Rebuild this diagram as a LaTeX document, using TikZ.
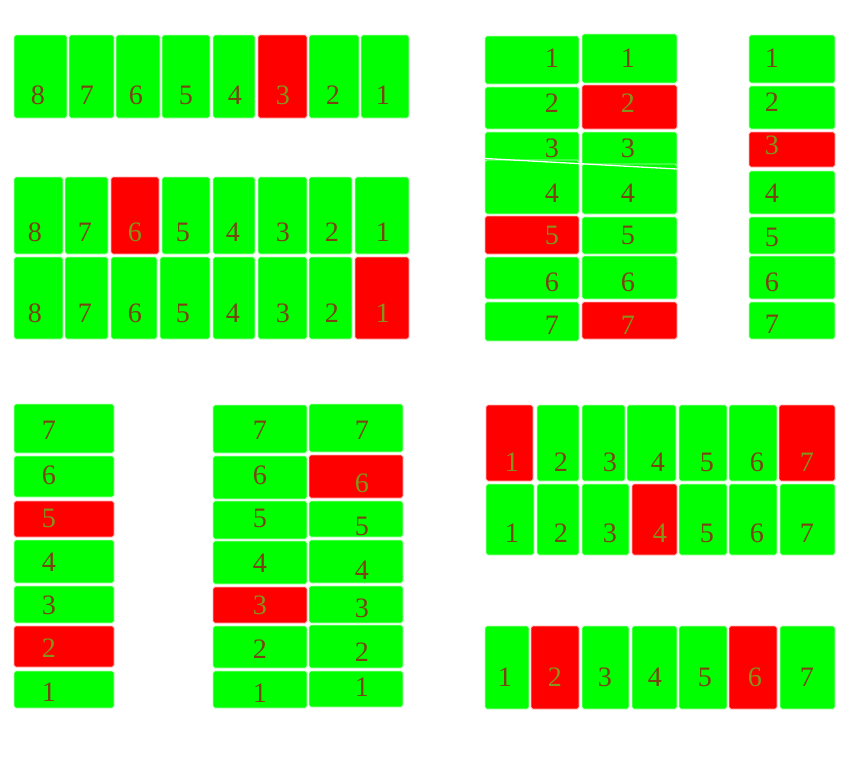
\documentclass[tikz,border=0pt]{standalone}
\usepackage{fontspec}
\setmainfont{Liberation Serif}
\usepackage{xcolor}
\definecolor{cellgreen}{HTML}{00FF00}
\definecolor{cellred}{HTML}{FF0000}
\definecolor{edgegreen}{HTML}{B8FFB8}
\definecolor{edgered}{HTML}{FFB0B0}
\definecolor{numbrown}{HTML}{7A4412}
\definecolor{numolive}{HTML}{849418}
\usepackage{tikz}

\begin{document}
\begin{tikzpicture}[x=0.03cm,y=-0.03cm,
  gcell/.style={fill=cellgreen,draw=edgegreen,line width=0.7pt,rounded corners=1.5pt},
  rcell/.style={fill=cellred,draw=edgered,line width=0.7pt,rounded corners=1.5pt},
  gnum/.style={text=numbrown,inner sep=0pt,font=\fontsize{24}{24}\selectfont},
  rnum/.style={text=numolive,inner sep=0pt,font=\fontsize{24}{24}\selectfont},
  slit/.style={white,line width=1.1pt}]
  \useasboundingbox (0,0) rectangle (850,774);
  % top left: one row
  \foreach \xa/\xb/\lx/\t/\s in {14/67/38/8/g,69/114/87/7/g,116/160/136/6/g,162/210/186/5/g,
      213/255/235/4/g,258/307/283/3/r,309/359/333/2/g,361/409/383/1/g}
    {\path[\s cell] (\xa,35) rectangle (\xb,118); \node[\s num] (row-\t) at (\lx,95) {\t};}
  % middle left: two rows
  \foreach \xa/\xb/\lx/\t/\s in {14/63/35/8/g,65/108/85/7/g,111/159/135/6/r,162/210/183/5/g,
      213/255/233/4/g,258/307/283/3/g,309/352/332/2/g,355/409/383/1/g}
    {\path[\s cell] (\xa,177) rectangle (\xb,254); \node[\s num] (upper-\t) at (\lx,232) {\t};}
  \foreach \xa/\xb/\lx/\t/\s in {14/63/35/8/g,65/108/85/7/g,111/157/135/6/g,160/210/183/5/g,
      213/255/233/4/g,258/307/283/3/g,309/352/332/2/g,355/409/383/1/r}
    {\path[\s cell] (\xa,257) rectangle (\xb,339); \node[\s num] (lower-\t) at (\lx,313) {\t};}
  % top right: two columns
  \foreach \ya/\yb/\ly/\t/\s in {36/84/58/1/g,87/129/103/2/g,132/163/148/3/g,160/214/193/4/g,
      216/254/235/5/r,257/299/282/6/g,302/341/325/7/g}
    {\path[\s cell] (485,\ya) rectangle (579,\yb); \node[\s num] (lcol-\t) at (552,\ly) {\t};}
  \foreach \ya/\yb/\ly/\t/\s in {34/83/58/1/g,85/129/103/2/r,132/168/148/3/g,164/214/193/4/g,
      217/254/235/5/g,256/299/282/6/g,302/339/325/7/r}
    {\path[\s cell] (582,\ya) rectangle (677,\yb); \node[\s num] (rcol-\t) at (628,\ly) {\t};}
  \draw[slit] (485,158.5) -- (677,169);
  % far right: one column
  \foreach \ya/\yb/\ly/\t/\s in {35/83/58/1/g,86/129/102/2/g,132/167/145/3/r,171/214/193/4/g,
      217/254/237/5/g,256/299/282/6/g,302/339/324/7/g}
    {\path[\s cell] (749,\ya) rectangle (835,\yb); \node[\s num] (col-\t) at (772,\ly) {\t};}
  % bottom left: one column
  \foreach \ya/\yb/\ly/\t/\s in {404/453/430/7/g,456/497/475/6/g,501/537/518/5/r,540/583/562/4/g,
      586/623/605/3/g,626/667/648/2/r,671/708/692/1/g}
    {\path[\s cell] (14,\ya) rectangle (114,\yb); \node[\s num] (stack-\t) at (49,\ly) {\t};}
  % bottom middle: two columns
  \foreach \ya/\yb/\ly/\t/\s in {405/453/430/7/g,456/499/475/6/g,501/539/518/5/g,541/584/563/4/g,
      587/623/605/3/r,626/668/649/2/g,671/708/693/1/g}
    {\path[\s cell] (213,\ya) rectangle (307,\yb); \node[\s num] (lstack-\t) at (260,\ly) {\t};}
  \foreach \ya/\yb/\ly/\t/\s in {404/452/430/7/g,455/498/483/6/r,501/537/526/5/g,540/583/570/4/g,
      586/623/608/3/g,625/668/652/2/g,671/707/687/1/g}
    {\path[\s cell] (309,\ya) rectangle (403,\yb); \node[\s num] (rstack-\t) at (362,\ly) {\t};}
  % bottom right: two rows
  \foreach \xa/\xb/\lx/\t/\s in {486/533/512/1/r,537/579/561/2/g,582/625/610/3/g,627/676/658/4/g,
      679/727/707/5/g,729/777/757/6/g,779/835/807/7/r}
    {\path[\s cell] (\xa,405) rectangle (\xb,481); \node[\s num] (top-\t) at (\lx,462) {\t};}
  \foreach \xa/\xb/\lx/\t/\s in {486/534/512/1/g,537/579/561/2/g,582/629/610/3/g,632/677/660/4/r,
      679/727/707/5/g,729/777/757/6/g,780/835/807/7/g}
    {\path[\s cell] (\xa,484) rectangle (\xb,555); \node[\s num] (bottom-\t) at (\lx,533) {\t};}
  % bottom right: one row
  \foreach \xa/\xb/\lx/\t/\s in {485/529/505/1/g,531/579/555/2/r,582/629/605/3/g,632/677/655/4/g,
      679/727/705/5/g,729/777/755/6/r,780/835/807/7/g}
    {\path[\s cell] (\xa,626) rectangle (\xb,709); \node[\s num] (line-\t) at (\lx,677) {\t};}
\end{tikzpicture}
\end{document}
